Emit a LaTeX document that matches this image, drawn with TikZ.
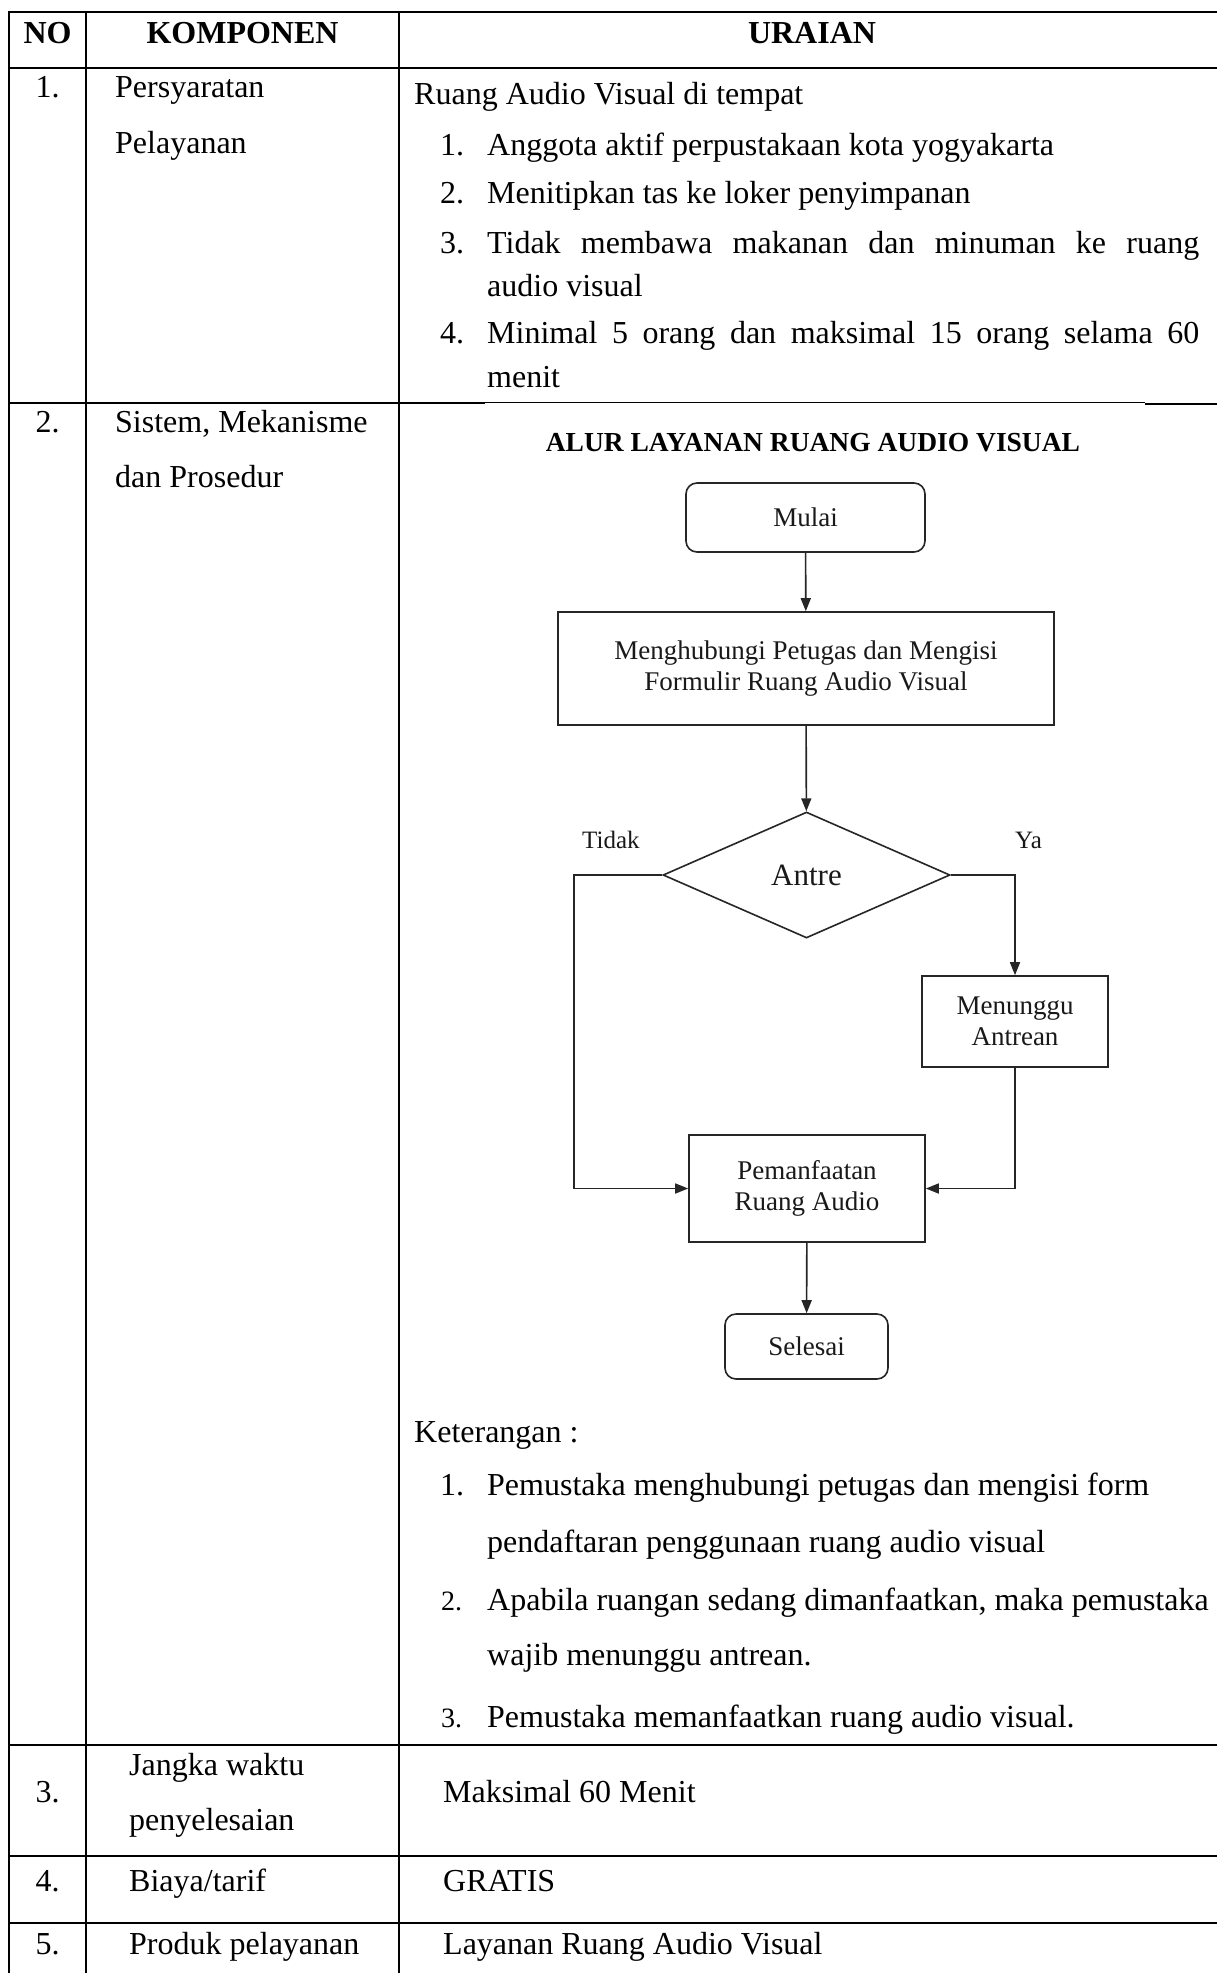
\documentclass[tikz,border=0pt]{standalone}
\usepackage{fontspec}
\setmainfont{Liberation Serif}
\usetikzlibrary{arrows.meta,shapes.geometric}

\tikzset{
  tblline/.style={line width=2.2pt, black},
  thinline/.style={line width=1.3pt, black},
  cell/.style={inner sep=0pt, anchor=base west, font=\fontsize{32}{38}\selectfont},
  num/.style={inner sep=0pt, anchor=base, font=\fontsize{32}{38}\selectfont},
  smallnum/.style={inner sep=0pt, anchor=base west, font=\fontsize{28}{34}\selectfont},
  head/.style={inner sep=0pt, anchor=base, font=\fontsize{32}{38}\selectfont\bfseries},
  flowtitle/.style={inner sep=0pt, anchor=base, font=\fontsize{27.5}{32}\selectfont\bfseries},
  procbox/.style={draw=black!85, line width=1.6pt, rectangle, inner sep=0pt, align=center,
    font=\fontsize{27}{31}\selectfont, text=black!90},
  termbox/.style={procbox, rounded corners=11pt},
  decbox/.style={draw=black!85, line width=1.6pt, diamond, aspect=2.28, inner sep=0pt,
    minimum width=287pt, minimum height=126pt, font=\fontsize{31}{36}\selectfont, text=black!90},
  branch/.style={inner sep=0pt, anchor=base west, font=\fontsize{25}{30}\selectfont, text=black!90},
  link/.style={draw=black!85, line width=1.6pt, -{Triangle[length=13pt,width=10pt]}},
}

\begin{document}
\begin{tikzpicture}[x=1pt,y=-1pt]
\useasboundingbox (0,0) rectangle (1217,1973);
\fill[white] (0,0) rectangle (1217,1973);

% ---------- table rules ----------
\draw[tblline] (8,12) -- (1217,12);
\draw[tblline] (9,68) -- (1217,68);
\draw[tblline] (9,403) -- (485,403);
\draw[thinline] (485,402.5) -- (1145,402.5);
\draw[tblline] (1145,404) -- (1217,404);
\draw[tblline] (9,1745) -- (1217,1745);
\draw[tblline] (9,1856) -- (1217,1856);
\draw[tblline] (9,1923) -- (1217,1923);
\draw[tblline] (9,11) -- (9,1973);
\draw[tblline] (86,12) -- (86,1973);
\draw[tblline] (399,12) -- (399,1973);

% ---------- header ----------
\node[head] (hNo)   at (47.5,43) {NO};
\node[head] (hKomp) at (242.5,43) {KOMPONEN};
\node[head] (hUrai) at (812,43) {URAIAN};

% ---------- row 1 ----------
\node[num]  (n1)  at (47.5,97) {1.};
\node[cell] (k1a) at (115,97) {Persyaratan};
\node[cell] (k1b) at (115,153) {Pelayanan};
\node[cell] (u1)  at (414,104) {Ruang Audio Visual di tempat};
\node[cell] (u1n1) at (440,155) {1.};
\node[cell] (u1t1) at (487,155) {Anggota aktif perpustakaan kota yogyakarta};
\node[cell] (u1n2) at (440,203) {2.};
\node[cell] (u1t2) at (487,203) {Menitipkan tas ke loker penyimpanan};
\node[cell] (u1n3) at (440,253) {3.};
\node[cell] (u1t3) at (487,253) {\makebox[712pt][s]{Tidak membawa makanan dan minuman ke ruang}};
\node[cell] (u1t3b) at (487,296) {audio visual};
\node[cell] (u1n4) at (440,343) {4.};
\node[cell] (u1t4) at (487,343) {\makebox[712pt][s]{Minimal 5 orang dan maksimal 15 orang selama 60}};
\node[cell] (u1t4b) at (487,387) {menit};

% ---------- row 2 ----------
\node[num]  (n2)  at (47.5,432) {2.};
\node[cell] (k2a) at (115,432) {Sistem, Mekanisme};
\node[cell] (k2b) at (115,487) {dan Prosedur};

% flow chart
\node[flowtitle] (ftitle) at (813,451) {ALUR LAYANAN RUANG AUDIO VISUAL};
\node[termbox, minimum width=239pt, minimum height=69pt] (mulai) at (805.5,517.5) {Mulai};
\node[procbox, minimum width=496pt, minimum height=113pt] (hubungi) at (806,668.5)
  {Menghubungi Petugas dan Mengisi\\Formulir Ruang Audio Visual};
\node[decbox] (antre) at (806.5,875) {Antre};
\node[procbox, minimum width=186pt, minimum height=91pt] (tunggu) at (1015,1021.5)
  {Menunggu\\Antrean};
\node[procbox, minimum width=236pt, minimum height=107pt] (manfaat) at (807,1188.5)
  {Pemanfaatan\\Ruang Audio};
\node[termbox, minimum width=163pt, minimum height=65pt] (selesai) at (806.5,1346.5) {Selesai};
\node[branch] (tidak) at (582,848) {Tidak};
\node[branch] (ya) at (1015,848) {Ya};
\coordinate (tbend) at (574,875);

\draw[link] (mulai) -- (hubungi);
\draw[link] (hubungi) -- (antre);
\draw[link] (antre.west) -- (tbend) |- (manfaat.west);
\draw[link] (antre.east) -| (tunggu.north);
\draw[link] (tunggu.south) |- (manfaat.east);
\draw[link] (manfaat) -- (selesai);

% keterangan
\node[cell] (ket) at (414,1442) {Keterangan :};
\node[cell] (k1n) at (440,1495) {1.};
\node[cell] (k1t) at (487,1495) {Pemustaka menghubungi petugas dan mengisi form};
\node[cell] (k1u) at (487,1552) {pendaftaran penggunaan ruang audio visual};
\node[smallnum] (k2n) at (441,1610) {2.};
\node[cell] (k2t) at (487,1610) {Apabila ruangan sedang dimanfaatkan, maka pemustaka};
\node[cell] (k2u) at (487,1665) {wajib menunggu antrean.};
\node[smallnum] (k3n) at (441,1727) {3.};
\node[cell] (k3t) at (487,1727) {Pemustaka memanfaatkan ruang audio visual.};

% ---------- row 3 ----------
\node[num]  (n3)  at (47.5,1802) {3.};
\node[cell] (k3a) at (129,1775) {Jangka waktu};
\node[cell] (k3b) at (129,1830) {penyelesaian};
\node[cell] (u3)  at (443,1802) {Maksimal 60 Menit};

% ---------- row 4 ----------
\node[num]  (n4)  at (47.5,1891) {4.};
\node[cell] (k4)  at (129,1891) {Biaya/tarif};
\node[cell] (u4)  at (443,1891) {GRATIS};

% ---------- row 5 ----------
\node[num]  (n5)  at (47.5,1954) {5.};
\node[cell] (k5)  at (129,1954) {Produk pelayanan};
\node[cell] (u5)  at (443,1954) {Layanan Ruang Audio Visual};
\end{tikzpicture}
\end{document}
